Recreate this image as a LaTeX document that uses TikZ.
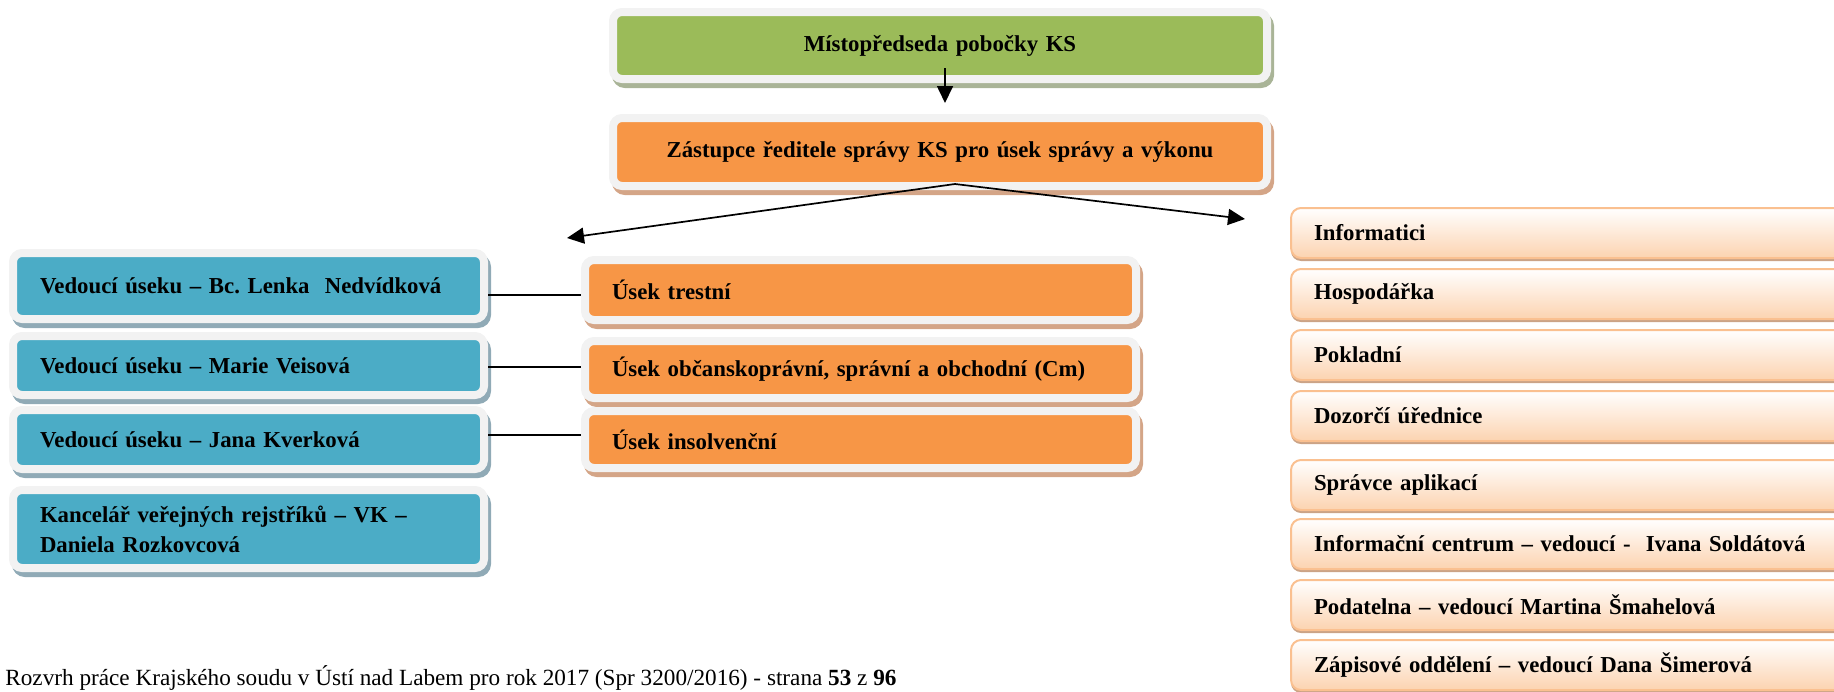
\documentclass[tikz,border=0pt]{standalone}
\usepackage{fontspec}
\setmainfont{Liberation Serif}
\usepackage{xcolor}
\usepackage{tikz}
\usetikzlibrary{arrows.meta}

\definecolor{boxGreen}{HTML}{9BBB59}
\definecolor{boxOrange}{HTML}{F79646}
\definecolor{boxBlue}{HTML}{4BACC6}
\definecolor{frameGrey}{HTML}{F2F2F2}
\definecolor{shadeGreen}{HTML}{A9B497}
\definecolor{shadeOrange}{HTML}{D4A587}
\definecolor{shadeBlue}{HTML}{90AAB6}
\definecolor{listBorder}{HTML}{FAC090}
\definecolor{listFill}{HTML}{FCD3B0}
\definecolor{listShade}{HTML}{CBA386}

\frenchspacing

\begin{document}
\begin{tikzpicture}[x=0.5pt, y=-0.5pt,
		boxFont/.style={font=\fontsize{11.4}{15}\selectfont\bfseries},
		shadowed/.style={preaction={fill=#1, draw=#1, line width=4pt, transform canvas={xshift=1.5pt, yshift=-2.5pt}}},
		framed/.style={boxFont, draw=frameGrey, line width=4pt, rounded corners=4.5pt, inner xsep=13.5pt, inner ysep=2pt},
		headBox/.style={framed, align=center, text width=300pt, minimum height=#1},
		blueBox/.style={framed, shadowed=shadeBlue, fill=boxBlue, align=left, text width=208.5pt, minimum height=#1},
		sectionBox/.style={framed, shadowed=shadeOrange, fill=boxOrange, align=left, text width=248.5pt, minimum height=#1},
		listItem/.style={boxFont, draw=listBorder, line width=1pt, rounded corners=5pt, top color=white, bottom color=listFill,
			anchor=west, align=left, text width=287pt, inner xsep=11.5pt, minimum height=25pt,
			preaction={fill=listShade, transform canvas={yshift=-1.5pt}}},
		link/.style={line width=0.65pt},
		arrowLink/.style={line width=0.85pt, -{Triangle[length=8.5pt, width=8pt]}}]
	\path[use as bounding box, clip] (0,0) rectangle (1834,691);

	% top of the chart
	\node[headBox=33.5pt, shadowed=shadeGreen, fill=boxGreen] (mistopredseda) at (940,45.5) {Místopředseda pobočky KS};
	\node[headBox=34pt, shadowed=shadeOrange, fill=boxOrange] (zastupce) at (940,152) {Zástupce ředitele správy KS pro úsek správy a výkonu};

	% heads of the sections
	\foreach \y/\h/\txt [count=\i] in {286/33pt/{Vedoucí úseku – Bc.\ Lenka \ Nedvídková}, 365.5/29.5pt/{Vedoucí úseku – Marie Veisová}, 439.5/29.5pt/{Vedoucí úseku – Jana Kverková}, 529/39pt/{Kancelář veřejných rejstříků – VK –\\Daniela Rozkovcová}}
	{
		\node[blueBox=\h] (vedouci\i) at (248.5,\y) {\txt};
	}

	% sections
	\foreach \y/\h/\txt [count=\i] in {290/30pt/{Úsek trestní}, 369.5/28.5pt/{Úsek občanskoprávní, správní a obchodní (Cm)}, 439.5/28.5pt/{Úsek insolvenční}}
	{
		\node[sectionBox=\h] (usek\i) at (860.5,\y) {\txt};
	}

	% list on the right
	\foreach \y/\txt [count=\i] in {233/{Informatici}, 294/{Hospodářka}, 355/{Pokladní}, 416/{Dozorčí úřednice}, 485/{Správce aplikací}, 544/{Informační centrum – vedoucí - \ Ivana Soldátová}, 605/{Podatelna – vedoucí Martina Šmahelová}, 665/{Zápisové oddělení – vedoucí Dana Šimerová}}
	{
		\node[listItem] (oddeleni\i) at (1290,\y) {\txt};
	}

	\foreach \i/\dy in {1/-2.5pt, 2/1.25pt, 3/2.25pt}{
		\path ([yshift=\dy]usek\i.west) coordinate (vstup\i);
		\draw[link] (vedouci\i.east |- vstup\i) -- (vstup\i);
	}

	\coordinate (downStart) at (945,68);
	\coordinate (downTip) at (945,103);
	\coordinate (split) at (955,184);
	\coordinate (leftTip) at (567,238);
	\coordinate (rightTip) at (1245,219);
	\draw[arrowLink] (downStart) -- (downTip);
	\draw[arrowLink] (split) -- (leftTip);
	\draw[arrowLink] (split) -- (rightTip);

	\node[anchor=base west, inner sep=0pt, font=\fontsize{11.6}{14}\selectfont] (paticka) at (5,685) {Rozvrh práce Krajského soudu v Ústí nad Labem pro rok 2017 (Spr 3200/2016) - strana \textbf{53} z \textbf{96}};
\end{tikzpicture}
\end{document}
